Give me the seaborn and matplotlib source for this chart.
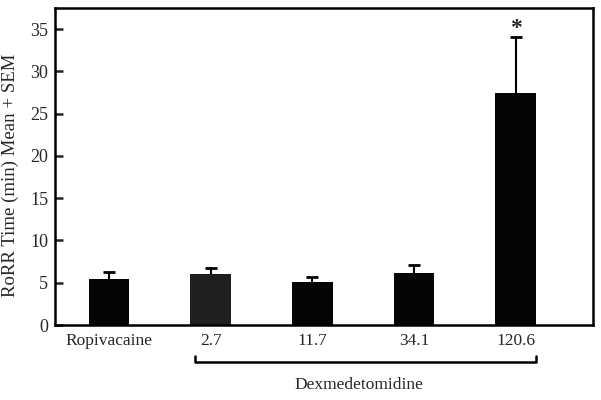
import matplotlib
matplotlib.use("Agg")
import matplotlib.pyplot as plt
import seaborn as sns
import pandas as pd

categories = ["Ropivacaine", "2.7", "11.7", "34.1", "120.6"]
means = [5.4, 6.0, 5.1, 6.2, 27.5]
sems = [0.85, 0.8, 0.55, 0.9, 6.6]
bar_colors = ["#050505", "#1f1f1f", "#050505", "#050505", "#050505"]
group_label = "Dexmedetomidine"
ylabel = "RoRR Time (min) Mean + SEM"
yticks = [0, 5, 10, 15, 20, 25, 30, 35]

sns.set_style("white")
plt.rcParams["font.family"] = ["Liberation Serif", "DejaVu Serif"]

df = pd.DataFrame({"group": categories, "mean": means})

fig = plt.figure(figsize=(6.01, 4.0), dpi=100)
ax = fig.add_axes([0.0915, 0.1875, 0.8952, 0.7925])

xs = list(range(len(categories)))
ax.errorbar(xs, means, yerr=sems, fmt="none", ecolor="black", elinewidth=1.5,
            capsize=4.5, capthick=2, zorder=1)
sns.barplot(data=df, x="group", y="mean", hue="group", palette=bar_colors,
            order=categories, width=0.4, legend=False, ax=ax, saturation=1,
            edgecolor="none", zorder=3)

ax.set_xlim(-0.53, 4.76)
ax.set_ylim(0, 37.5)
ax.set_yticks(yticks)
ax.set_yticklabels([str(t) for t in yticks], fontsize=13)
ax.tick_params(axis="y", direction="in", length=6, width=1.8, left=True, pad=5)
ax.tick_params(axis="x", length=0, labelsize=12.5, pad=6)
ax.set_xlabel("")
ax.set_ylabel(ylabel, fontsize=13.5)
ax.yaxis.set_label_coords(-0.066, 0.473)
for s in ax.spines.values():
    s.set_linewidth(1.8)
    s.set_color("black")
    s.set_zorder(6)

# significance star
ax.text(4, means[4] + sems[4] + 0.35, "*", ha="center", va="baseline",
        fontsize=17, fontweight="bold", zorder=7)

# bracket for Dexmedetomidine group
trans = ax.get_xaxis_transform()
y_br = -0.116
y_end = -0.099
x0, x1 = 0.85, 4.2
ax.plot([x0, x0, x1, x1], [y_end, y_br, y_br, y_end], color="black",
        lw=1.8, transform=trans, clip_on=False)
ax.text((x0 + x1) / 2 - 0.07, -0.19, group_label, ha="center", va="center",
        fontsize=12.5, transform=trans)

fig.savefig("out.png", dpi=100)
